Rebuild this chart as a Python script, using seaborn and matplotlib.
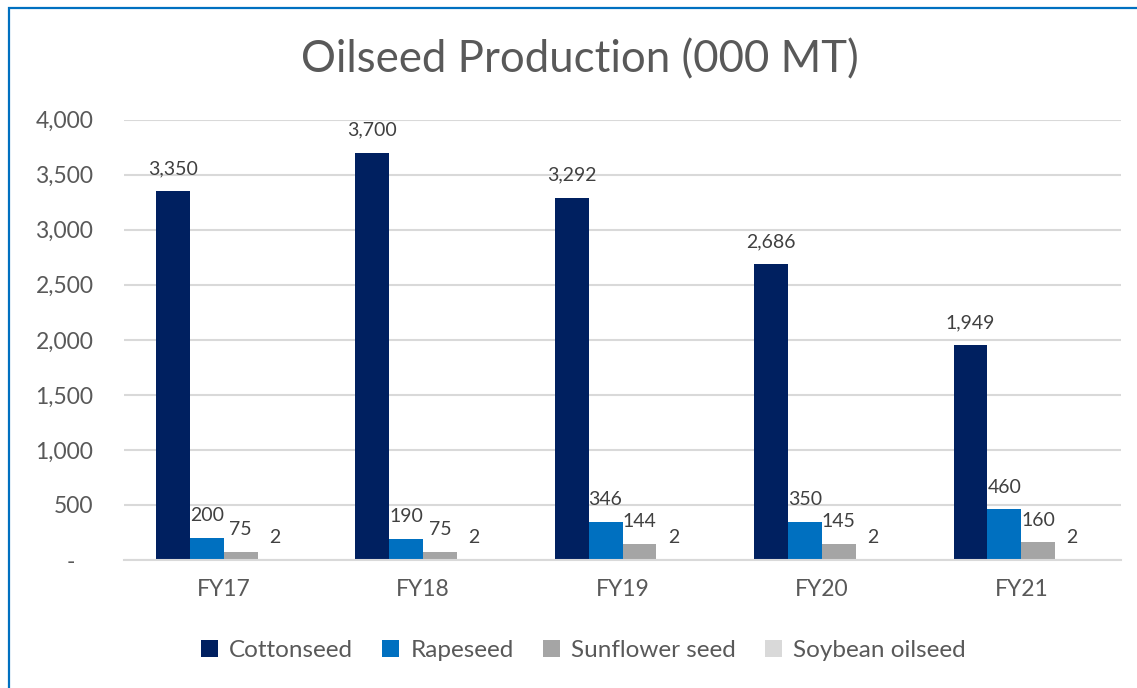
import matplotlib
matplotlib.use("Agg")
import matplotlib.pyplot as plt
from matplotlib.patches import Rectangle
from matplotlib.ticker import FuncFormatter, MultipleLocator
import seaborn as sns
import pandas as pd

# Oilseed production by fiscal year, thousand metric tons
years = ["FY17", "FY18", "FY19", "FY20", "FY21"]
cottonseed = [3350, 3700, 3292, 2686, 1949]
rapeseed = [200, 190, 346, 350, 460]
sunflower = [75, 75, 144, 145, 160]
soybean = [2, 2, 2, 2, 2]

crops = ["Cottonseed", "Rapeseed", "Sunflower seed", "Soybean oilseed"]
colors = ["#002060", "#0070C0", "#A5A5A5", "#D9D9D9"]

rows = []
for crop, vals in zip(crops, [cottonseed, rapeseed, sunflower, soybean]):
    for yr, v in zip(years, vals):
        rows.append({"Year": yr, "Crop": crop, "Value": v})
df = pd.DataFrame(rows)

sns.set_theme(style="white")
plt.rcParams["font.family"] = ["Lato", "DejaVu Sans"]
text_color = "#595959"
grid_color = "#D9D9D9"

fig = plt.figure(figsize=(11.37, 6.88), dpi=100)
ax = fig.add_axes([0.109, 0.186, 0.877, 0.640])

sns.barplot(data=df, x="Year", y="Value", hue="Crop", hue_order=crops,
            palette=colors, width=0.68, gap=0, saturation=1,
            edgecolor="none", ax=ax, legend=True)

for container in ax.containers:
    ax.bar_label(container, labels=[f"{v:,.0f}" for v in container.datavalues],
                 padding=10, fontsize=14, color="#404040")

ax.set_ylim(0, 4000)
ax.yaxis.set_major_locator(MultipleLocator(500))
ax.yaxis.set_major_formatter(FuncFormatter(lambda v, p: "-   " if v == 0 else f"{v:,.0f}"))
ax.grid(axis="y", color=grid_color, linewidth=1.5)
ax.set_axisbelow(True)
for side in ["left", "top", "right"]:
    ax.spines[side].set_visible(False)
ax.spines["bottom"].set_color(grid_color)
ax.spines["bottom"].set_linewidth(1.5)
ax.tick_params(axis="y", length=0, pad=22, labelsize=16.5, labelcolor=text_color)
ax.tick_params(axis="x", length=0, pad=14, labelsize=16.5, labelcolor=text_color)
ax.set_xlabel("")
ax.set_ylabel("")

ax.legend_.remove()
handles, labels = ax.get_legend_handles_labels()
fig.legend(handles, labels, loc="center", bbox_to_anchor=(0.513, 0.054), ncol=4,
           frameon=False, fontsize=17.5, labelcolor=text_color,
           handlelength=0.7, handleheight=0.7, handletextpad=0.45,
           columnspacing=1.2)

fig.text(0.51, 0.913, "Oilseed Production (000 MT)", ha="center", va="center",
         fontsize=31.5, color=text_color)

fig.patches.append(Rectangle((9 / 1137, -0.1), 1.2, 1.1 - 8 / 688,
                             transform=fig.transFigure, fill=False,
                             edgecolor="#0070C0", linewidth=1.6))

fig.savefig("out.png", dpi=100)
